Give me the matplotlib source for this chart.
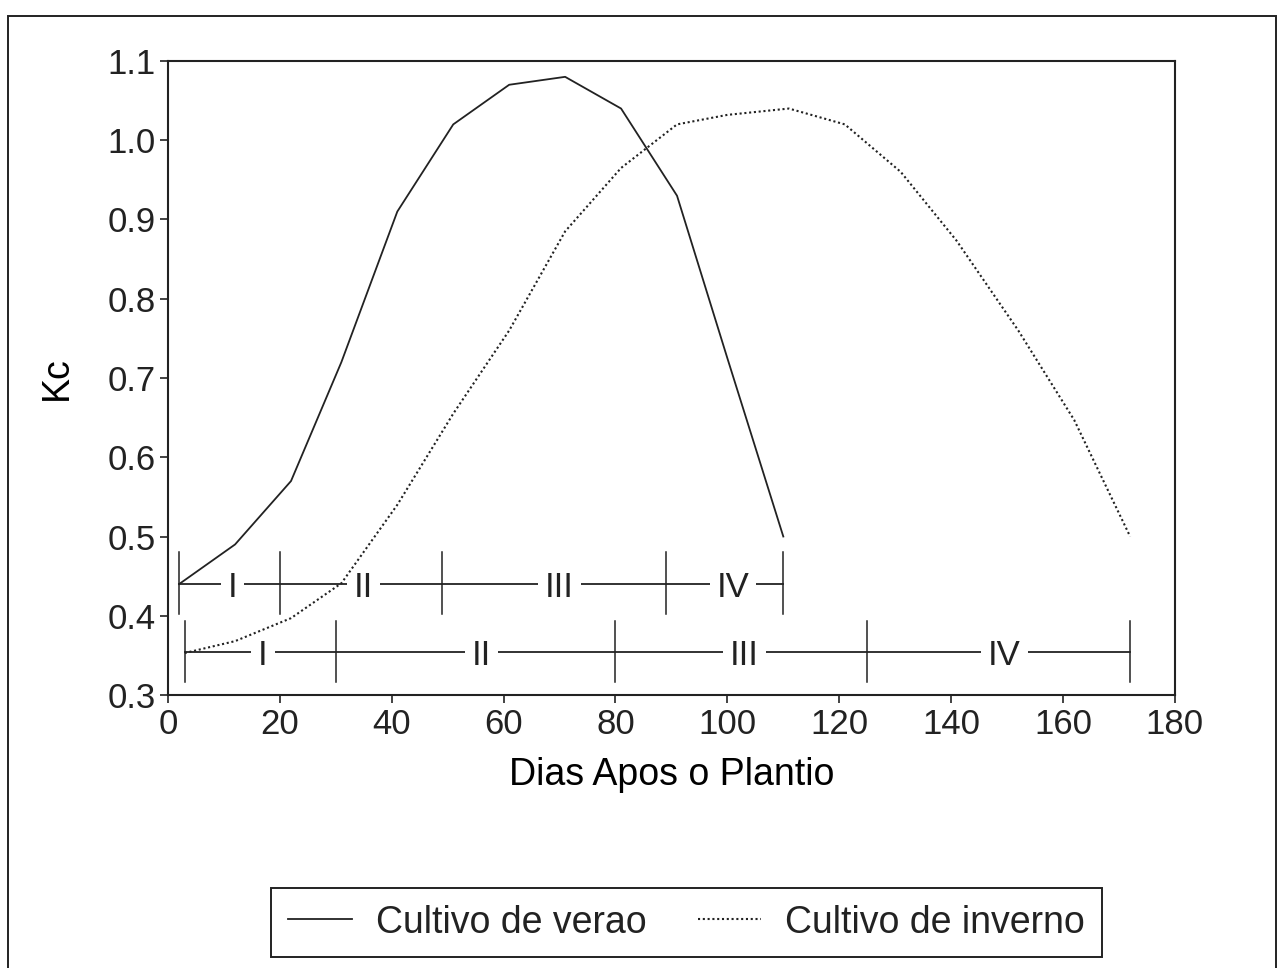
"""Kc curve for summer and winter crops, with growth stages under the curves."""
import matplotlib

matplotlib.use("Agg")
import matplotlib.pyplot as plt  # noqa: E402
from matplotlib.patches import Rectangle  # noqa: E402

plt.rcParams.update({
    "font.family": ["Liberation Sans", "DejaVu Sans"],
    "text.color": "#222222",
    "axes.edgecolor": "#222222",
    "xtick.color": "#222222",
    "ytick.color": "#222222",
})

INK = "#222222"

# data
summer_days = [2, 12, 22, 31, 41, 51, 61, 71, 81, 91, 100, 110]
summer_kc = [0.44, 0.49, 0.57, 0.72, 0.91, 1.02, 1.07, 1.08, 1.04, 0.93, 0.725, 0.50]

winter_days = [3, 12, 22, 31, 41, 51, 61, 71, 81, 91, 100, 111, 121, 131, 141, 152, 162, 172]
winter_kc = [0.353, 0.368, 0.397, 0.441, 0.54, 0.655, 0.76, 0.885, 0.965, 1.02, 1.032,
             1.04, 1.02, 0.96, 0.873, 0.76, 0.647, 0.50]

stage_names = ["I", "II", "III", "IV"]
summer_stage_bounds = [2, 20, 49, 89, 110]
summer_stage_label_x = [11.5, 35, 70, 101]
summer_bar_kc = 0.44
winter_stage_bounds = [3, 30, 80, 125, 172]
winter_stage_label_x = [17, 56, 103, 149.5]
winter_bar_kc = 0.354

fig = plt.figure(figsize=(12.86, 9.68), dpi=100)
ax = fig.add_axes([0.1306, 0.282, 0.783, 0.655])

# outer frame of the scanned page
fig.patches.append(Rectangle((0.0062, -0.02), 0.986, 1.0037, transform=fig.transFigure,
                             fill=False, edgecolor=INK, linewidth=1.4))

ax.plot(summer_days, summer_kc, color=INK, lw=1.3, zorder=3, label="Cultivo de verao")
ax.plot(winter_days, winter_kc, color=INK, lw=1.5, ls=(0, (1, 1.3)), zorder=3,
        label="Cultivo de inverno")


def stage_bar(bounds, label_x, level):
    ax.plot([bounds[0], bounds[-1]], [level, level], color=INK, lw=1.3, zorder=1)
    for b in bounds:
        ax.plot([b, b], [level - 0.038, level + 0.04], color=INK, lw=1.1, zorder=1)
    for name, lx in zip(stage_names, label_x):
        ax.text(lx, level - 0.004, name, fontsize=25, ha="center", va="center", zorder=2,
                bbox=dict(facecolor="white", edgecolor="none", pad=5))


stage_bar(summer_stage_bounds, summer_stage_label_x, summer_bar_kc)
stage_bar(winter_stage_bounds, winter_stage_label_x, winter_bar_kc)

ax.set_xlim(0, 180)
ax.set_ylim(0.3, 1.1)
ax.set_xticks(range(0, 181, 20))
ax.set_yticks([0.3, 0.4, 0.5, 0.6, 0.7, 0.8, 0.9, 1.0, 1.1])
ax.set_yticklabels([f"{v:.1f}" for v in ax.get_yticks()])
ax.tick_params(direction="out", length=6, width=1.2, labelsize=25, pad=3)
for s in ax.spines.values():
    s.set_linewidth(1.5)

ax.set_xlabel("Dias Apos o Plantio", fontsize=27)
ax.set_ylabel("Kc", fontsize=27)
ax.xaxis.set_label_coords(0.5, -0.097)
ax.yaxis.set_label_coords(-0.092, 0.5)

leg = fig.legend(loc="center", bbox_to_anchor=(0.534, 0.047), ncol=2, fontsize=27,
                 handlelength=1.7, handletextpad=0.64, columnspacing=1.36,
                 borderpad=0.45, fancybox=False, framealpha=1, edgecolor=INK)
leg.get_frame().set_linewidth(1.4)

fig.savefig("out.png", dpi=100, facecolor="white")
